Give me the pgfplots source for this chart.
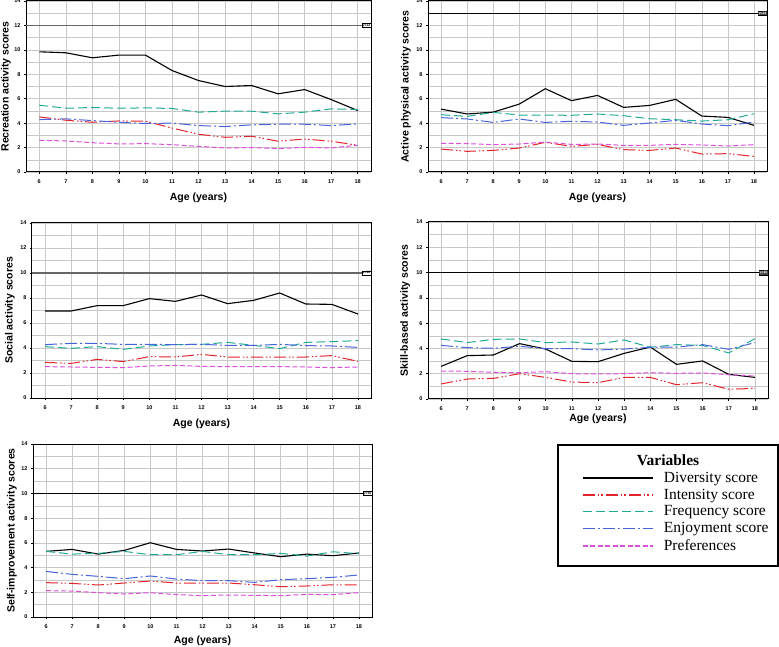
\documentclass[border=0pt]{standalone}
\usepackage{fontspec}
\setmainfont{Liberation Serif}
\setsansfont{Liberation Sans}
\usepackage{pgfplots}
\pgfplotsset{compat=1.18}

\definecolor{intred}{RGB}{226,36,44}
\definecolor{freqteal}{RGB}{32,170,150}
\definecolor{enjblue}{RGB}{72,100,218}
\definecolor{prefmag}{RGB}{220,80,220}
\definecolor{gridgray}{RGB}{200,200,200}

\tikzset{
  reflab/.style={draw=black, fill=white, inner sep=0.6pt, anchor=east,
    font=\sffamily\bfseries\fontsize{3.5}{4}\selectfont},
}
\pgfplotsset{
  panel/.style={
    scale only axis, anchor=south west,
    xmin=5.5, xmax=18.5, ymin=0, ymax=14,
    xtick={6,...,18}, ytick={0,2,...,14}, minor y tick num=1,
    grid=both,
    major grid style={gridgray, line width=0.5pt},
    minor grid style={gridgray, line width=0.5pt},
    axis line style={line width=1pt},
    tick pos=left, tick align=outside,
    major tick length=2pt, minor tick length=0pt,
    tick style={black, line width=0.6pt},
    /pgf/number format/assume math mode=true,
    ticklabel style={font=\sffamily\bfseries\fontsize{5.5}{6}\selectfont},
    xticklabel style={yshift=-2pt},
    label style={font=\sffamily\bfseries\fontsize{10.5}{12}\selectfont},
    xlabel={Age (years)},
    xlabel style={at={(axis description cs:0.5,-0.15)}, anchor=center},
  },
  div/.style={black, line width=1.1pt},
  int/.style={intred, line width=1pt, dash pattern=on 12pt off 3pt on 1.5pt off 2pt on 1.5pt off 3pt},
  freq/.style={freqteal, line width=1pt, dash pattern=on 9pt off 4pt},
  enj/.style={enjblue, line width=1pt, dash pattern=on 12pt off 3pt on 2pt off 3pt},
  pref/.style={prefmag, line width=1pt, dash pattern=on 5pt off 2.5pt},
  refline/.style={forget plot, line width=1pt},
}

\begin{document}
\begin{tikzpicture}
\useasboundingbox (0,0) rectangle (779pt,646pt);

% Recreation
\begin{axis}[panel, at={(26pt,474pt)}, width=345pt, height=171pt,
  ylabel={Recreation activity scores},
  ylabel style={at={(axis description cs:-0.058,0.5)}, anchor=center}]
\addplot[refline, black!60, line width=1.6pt] coordinates {(5.5,12) (18.5,12)};
\addplot[div] coordinates {(6,9.84) (7,9.76) (8,9.35) (9,9.57) (10,9.57) (11,8.31) (12,7.49) (13,7.0) (14,7.08) (15,6.4) (16,6.75) (17,5.93) (18,5.03)};
\addplot[int] coordinates {(6,4.51) (7,4.24) (8,4.07) (9,4.18) (10,4.16) (11,3.6) (12,3.09) (13,2.84) (14,2.93) (15,2.52) (16,2.7) (17,2.52) (18,2.19)};
\addplot[freq] coordinates {(6,5.47) (7,5.22) (8,5.28) (9,5.22) (10,5.25) (11,5.2) (12,4.9) (13,4.98) (14,4.98) (15,4.76) (16,4.9) (17,5.17) (18,5.12)};
\addplot[enj] coordinates {(6,4.29) (7,4.35) (8,4.21) (9,4.07) (10,3.97) (11,4.0) (12,3.8) (13,3.72) (14,3.86) (15,3.91) (16,3.91) (17,3.8) (18,3.94)};
\addplot[pref] coordinates {(6,2.6) (7,2.54) (8,2.4) (9,2.3) (10,2.32) (11,2.24) (12,2.1) (13,1.97) (14,2.0) (15,1.91) (16,2.02) (17,1.97) (18,2.19)};
\node[reflab] at (axis cs:18.5,12) {y=12};
\end{axis}

% Active physical
\begin{axis}[panel, at={(428pt,474pt)}, width=339pt, height=171pt,
  ylabel={Active physical activity scores},
  ylabel style={at={(axis description cs:-0.065,0.5)}, anchor=center}]
\addplot[refline, black] coordinates {(5.5,13) (18.5,13)};
\addplot[div] coordinates {(6,5.15) (7,4.75) (8,4.9) (9,5.56) (10,6.82) (11,5.84) (12,6.27) (13,5.29) (14,5.45) (15,5.95) (16,4.58) (17,4.47) (18,3.82)};
\addplot[int] coordinates {(6,1.88) (7,1.69) (8,1.77) (9,1.96) (10,2.43) (11,2.1) (12,2.26) (13,1.83) (14,1.77) (15,1.96) (16,1.47) (17,1.5) (18,1.28)};
\addplot[freq] coordinates {(6,4.69) (7,4.55) (8,4.88) (9,4.66) (10,4.66) (11,4.64) (12,4.75) (13,4.61) (14,4.36) (15,4.28) (16,4.17) (17,4.28) (18,4.77)};
\addplot[enj] coordinates {(6,4.45) (7,4.34) (8,4.06) (9,4.34) (10,4.06) (11,4.15) (12,4.09) (13,3.82) (14,4.01) (15,4.23) (16,3.93) (17,3.79) (18,4.09)};
\addplot[pref] coordinates {(6,2.35) (7,2.32) (8,2.24) (9,2.29) (10,2.45) (11,2.26) (12,2.29) (13,2.18) (14,2.18) (15,2.26) (16,2.21) (17,2.13) (18,2.24)};
\node[reflab, fill=black!70, text=white] at (axis cs:18.5,13) {y=13};
\end{axis}

% Social
\begin{axis}[panel, at={(32pt,248pt)}, width=339pt, height=175pt,
  ylabel={Social activity scores},
  ylabel style={at={(axis description cs:-0.065,0.5)}, anchor=center}]
\addplot[refline, black!60, line width=1.6pt] coordinates {(5.5,10) (18.5,10)};
\addplot[div] coordinates {(6,6.96) (7,6.96) (8,7.39) (9,7.39) (10,7.95) (11,7.73) (12,8.24) (13,7.55) (14,7.81) (15,8.4) (16,7.52) (17,7.49) (18,6.72)};
\addplot[int] coordinates {(6,2.85) (7,2.77) (8,3.09) (9,2.91) (10,3.31) (11,3.28) (12,3.49) (13,3.28) (14,3.28) (15,3.28) (16,3.28) (17,3.39) (18,2.93)};
\addplot[freq] coordinates {(6,4.11) (7,3.97) (8,4.11) (9,3.89) (10,4.16) (11,4.27) (12,4.29) (13,4.45) (14,4.21) (15,3.95) (16,4.45) (17,4.51) (18,4.59)};
\addplot[enj] coordinates {(6,4.27) (7,4.37) (8,4.37) (9,4.29) (10,4.29) (11,4.27) (12,4.29) (13,4.21) (14,4.21) (15,4.29) (16,4.19) (17,4.16) (18,4.05)};
\addplot[pref] coordinates {(6,2.51) (7,2.48) (8,2.45) (9,2.43) (10,2.56) (11,2.61) (12,2.53) (13,2.51) (14,2.51) (15,2.51) (16,2.48) (17,2.43) (18,2.48)};
\node[reflab] at (axis cs:18.5,10) {y=10};
\end{axis}

% Skill-based
\begin{axis}[panel, at={(428pt,247pt)}, width=340pt, height=177pt,
  ylabel={Skill-based activity scores},
  ylabel style={at={(axis description cs:-0.067,0.5)}, anchor=center},
  xlabel style={at={(axis description cs:0.5,-0.11)}}]
\addplot[refline, black] coordinates {(5.5,10) (18.5,10)};
\addplot[div] coordinates {(6,2.58) (7,3.43) (8,3.48) (9,4.38) (10,3.95) (11,2.98) (12,2.95) (13,3.61) (14,4.11) (15,2.74) (16,3.01) (17,1.95) (18,1.71)};
\addplot[int] coordinates {(6,1.19) (7,1.58) (8,1.63) (9,2.0) (10,1.71) (11,1.34) (12,1.29) (13,1.71) (14,1.71) (15,1.13) (16,1.29) (17,0.77) (18,0.84)};
\addplot[freq] coordinates {(6,4.75) (7,4.46) (8,4.72) (9,4.75) (10,4.46) (11,4.51) (12,4.35) (13,4.67) (14,4.09) (15,4.3) (16,4.24) (17,3.64) (18,4.77)};
\addplot[enj] coordinates {(6,4.24) (7,4.06) (8,4.01) (9,4.17) (10,3.98) (11,3.98) (12,3.88) (13,3.95) (14,4.09) (15,4.11) (16,4.3) (17,3.93) (18,4.46)};
\addplot[pref] coordinates {(6,2.21) (7,2.19) (8,2.11) (9,2.08) (10,2.16) (11,2.0) (12,1.98) (13,2.0) (14,2.08) (15,2.03) (16,2.06) (17,1.92) (18,1.82)};
\node[reflab, fill=black!70, text=white] at (axis cs:18.5,10) {y=10};
\end{axis}

% Self-improvement
\begin{axis}[panel, at={(33pt,29pt)}, width=339pt, height=173pt,
  ylabel={Self-improvement activity scores},
  ylabel style={at={(axis description cs:-0.062,0.5)}, anchor=center},
  xlabel style={at={(axis description cs:0.5,-0.135)}},
  legend image code/.code={\draw[#1] (0pt,0pt) -- (70pt,0pt);},
  legend image post style={line width=1.8pt},
  legend style={at={(axis description cs:1.619,0.842)}, anchor=north west,
    draw=none, fill=none, inner sep=0pt,
    font=\fontsize{15.5}{16}\selectfont,
    nodes={inner xsep=0pt, inner ysep=0.3pt},
    column sep=10pt, row sep=4.6pt},
  legend cell align=left]
\addplot[refline, black] coordinates {(5.5,10) (18.5,10)};
\addplot[div] coordinates {(6,5.31) (7,5.47) (8,5.09) (9,5.39) (10,6.01) (11,5.47) (12,5.34) (13,5.5) (14,5.18) (15,4.88) (16,5.09) (17,4.96) (18,5.18)};
\addlegendentry{Diversity score}
\addplot[int] coordinates {(6,2.78) (7,2.72) (8,2.59) (9,2.75) (10,2.91) (11,2.75) (12,2.75) (13,2.75) (14,2.61) (15,2.45) (16,2.51) (17,2.61) (18,2.61)};
\addlegendentry{Intensity score}
\addplot[freq] coordinates {(6,5.31) (7,5.09) (8,5.15) (9,5.31) (10,5.04) (11,5.04) (12,5.31) (13,5.04) (14,5.04) (15,5.15) (16,4.93) (17,5.28) (18,5.12)};
\addlegendentry{Frequency score}
\addplot[enj] coordinates {(6,3.69) (7,3.45) (8,3.29) (9,3.1) (10,3.32) (11,3.07) (12,2.94) (13,2.94) (14,2.8) (15,3.02) (16,3.1) (17,3.21) (18,3.4)};
\addlegendentry{Enjoyment score}
\addplot[pref] coordinates {(6,2.13) (7,2.1) (8,1.97) (9,1.86) (10,1.97) (11,1.81) (12,1.73) (13,1.78) (14,1.75) (15,1.73) (16,1.83) (17,1.81) (18,1.97)};
\addlegendentry{Preferences}
\node[reflab] at (axis cs:18.5,10) {y=10};
\end{axis}

% legend frame and title
\draw[line width=1.2pt] (558pt,80pt) rectangle (778pt,201pt);
\node[font=\bfseries\fontsize{15.5}{16}\selectfont] at (668pt,186pt) {Variables};
\end{tikzpicture}
\end{document}
